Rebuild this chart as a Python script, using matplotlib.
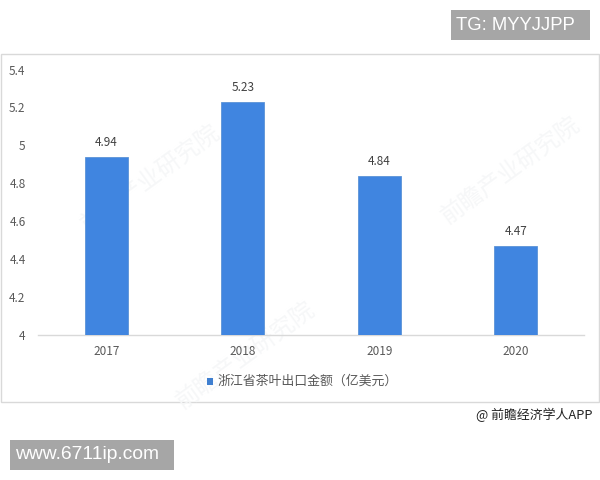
import matplotlib
matplotlib.use("Agg")
import matplotlib.pyplot as plt
from matplotlib.patches import Rectangle

plt.rcParams['font.family'] = ['Noto Sans CJK SC', 'DejaVu Sans']

years = ['2017', '2018', '2019', '2020']
values = [4.94, 5.23, 4.84, 4.47]
yticks = [4, 4.2, 4.4, 4.6, 4.8, 5, 5.2, 5.4]
ytick_labels = ['4', '4.2', '4.4', '4.6', '4.8', '5', '5.2', '5.4']
series_name = '浙江省茶叶出口金额（亿美元）'
watermark = '前瞻产业研究院'
credit = '@ 前瞻经济学人APP'
top_tag = 'TG: MYYJJPP'
bottom_tag = 'www.6711ip.com'

W, H = 600, 480
fig = plt.figure(figsize=(6, 4.8), dpi=100, facecolor='white')

def box(x0, y0, x1, y1):
    return [x0 / W, 1 - y1 / H, (x1 - x0) / W, (y1 - y0) / H]

# chart frame, behind everything
fig.add_artist(Rectangle((1 / W, 1 - 401.5 / H), 598 / W, 348 / H, transform=fig.transFigure,
                         fc='white', ec='#d9d9d9', lw=1.0, zorder=-3))

# faint watermarks, behind the axes
for wx, wy in [(150, 178), (510, 170), (245, 355)]:
    fig.text(wx / W, 1 - wy / H, watermark, rotation=36, fontsize=17, color='#f6f7f8',
             ha='center', va='center', zorder=-2)

ax = fig.add_axes(box(38, 69.5, 584, 335))
ax.patch.set_alpha(0)
x = list(range(len(years)))
ax.bar(x, values, width=0.312, color='#4085e0', edgecolor='#5b93d6', linewidth=0.6, zorder=3)
ax.set_xlim(-0.5, 3.5)
ax.set_ylim(4, 5.4)
ax.set_yticks(yticks)
ax.set_yticklabels(ytick_labels)
ax.set_xticks(x)
ax.set_xticklabels(years)
ax.tick_params(axis='both', length=0, labelsize=8.5, labelcolor='#595959')
ax.tick_params(axis='x', pad=7)
ax.tick_params(axis='y', pad=9)
for s in ['top', 'right', 'left']:
    ax.spines[s].set_visible(False)
ax.spines['bottom'].set_color('#d9d9d9')
ax.spines['bottom'].set_linewidth(1.0)

for xi, v in zip(x, values):
    ax.annotate(f'{v:.2f}', (xi, v), xytext=(0, 5.8), textcoords='offset points',
                ha='center', va='bottom', fontsize=8.5, color='#404040', zorder=4)

# legend
fig.text(217 / W, 1 - 381 / H, series_name, fontsize=9.3, color='#595959', va='center', ha='left')
fig.add_artist(Rectangle((207 / W, 1 - 384.5 / H), 6 / W, 7 / H, transform=fig.transFigure,
                         fc='#3f7fd0', ec='none'))

fig.text(476 / W, 1 - 415 / H, credit, fontsize=9.3, color='#222222', va='center', ha='left')

# grey tag boxes
fig.add_artist(Rectangle((451 / W, 1 - 40 / H), 139 / W, 30 / H, transform=fig.transFigure,
                         fc='#a6a6a6', ec='none'))
fig.text(456 / W, 1 - 25.5 / H, top_tag, fontsize=13.3, color='white', va='center', ha='left',
         family='Liberation Sans')
fig.add_artist(Rectangle((10 / W, 1 - 470 / H), 164 / W, 30 / H, transform=fig.transFigure,
                         fc='#a6a6a6', ec='none'))
fig.text(15 / W, 1 - 454.5 / H, bottom_tag, fontsize=13.9, color='white', va='center', ha='left',
         family='Liberation Sans')

fig.savefig('out.png', dpi=100)
